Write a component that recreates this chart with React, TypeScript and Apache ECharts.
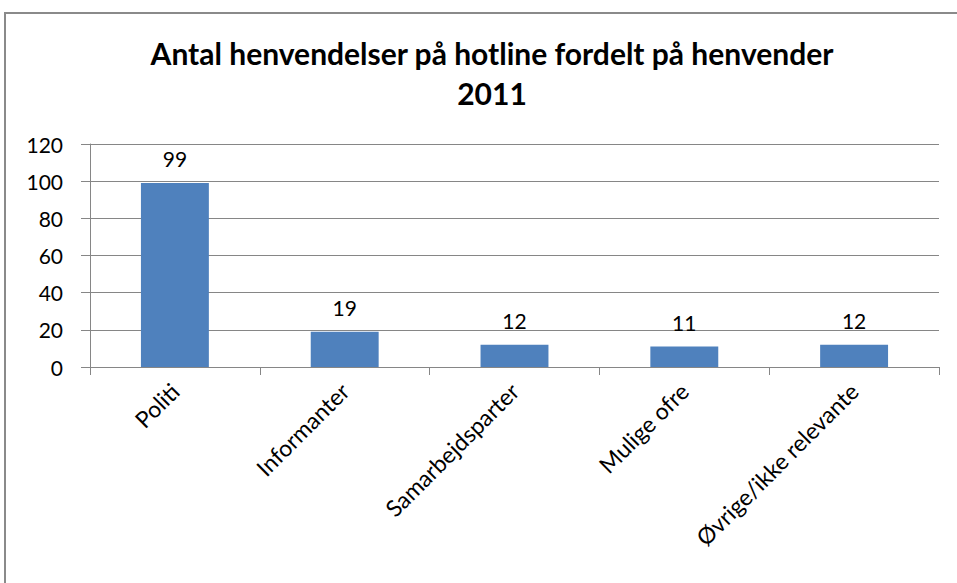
import React, { useEffect, useRef } from "react";
import * as echarts from "echarts";

const categories = ["Politi", "Informanter", "Samarbejdsparter", "Mulige ofre", "Øvrige/ikke relevante"];
const values = [99, 19, 12, 11, 12];
const titleLines = ["Antal henvendelser på hotline fordelt på henvender", "2011"];

const FONT = "Lato, 'Open Sans', sans-serif";

export default function App() {
  const ref = useRef<HTMLDivElement>(null);
  useEffect(() => {
    if (!ref.current) return;
    const chart = echarts.init(ref.current, undefined, { renderer: "svg" });
    chart.setOption({
      animation: false,
      backgroundColor: "#ffffff",
      graphic: [
        {
          type: "rect",
          shape: { x: 5, y: 13, width: 1000, height: 1000 },
          style: { fill: "none", stroke: "#8a8a8a", lineWidth: 2 },
          z: 0,
        },
      ],
      title: {
        text: titleLines.join("\n"),
        left: 487,
        textAlign: "center",
        top: 28,
        textStyle: {
          fontFamily: FONT,
          fontWeight: "bold",
          fontSize: 30,
          lineHeight: 40,
          color: "#000",
        },
      },
      grid: { left: 90, right: 18, top: 144, bottom: 216, containLabel: false },
      xAxis: {
        type: "category",
        data: categories,
        axisLine: { show: true, lineStyle: { color: "#868686", width: 1 } },
        axisTick: { show: true, length: 8, alignWithLabel: false, lineStyle: { color: "#868686" } },
        axisLabel: {
          rotate: 45,
          interval: 0,
          margin: 20,
          fontFamily: FONT,
          fontSize: 23,
          color: "#000",
        },
      },
      yAxis: {
        type: "value",
        min: 0,
        max: 120,
        interval: 20,
        axisLine: { show: true, lineStyle: { color: "#868686", width: 1 } },
        axisTick: { show: true, length: 9, lineStyle: { color: "#868686" } },
        splitLine: { show: true, lineStyle: { color: "#868686", width: 1 } },
        axisLabel: {
          margin: 27,
          fontFamily: FONT,
          fontSize: 21,
          color: "#000",
        },
      },
      series: [
        {
          type: "bar",
          data: values,
          barWidth: "40%",
          itemStyle: { color: "#4F81BD" },
          label: {
            show: true,
            position: "top",
            distance: 14,
            fontFamily: FONT,
            fontSize: 21,
            color: "#000",
          },
        },
      ],
    });
    return () => chart.dispose();
  }, []);
  return (
    <div
      ref={ref}
      style={{ position: "absolute", left: 0, top: 0, width: 957, height: 583 }}
    />
  );
}
